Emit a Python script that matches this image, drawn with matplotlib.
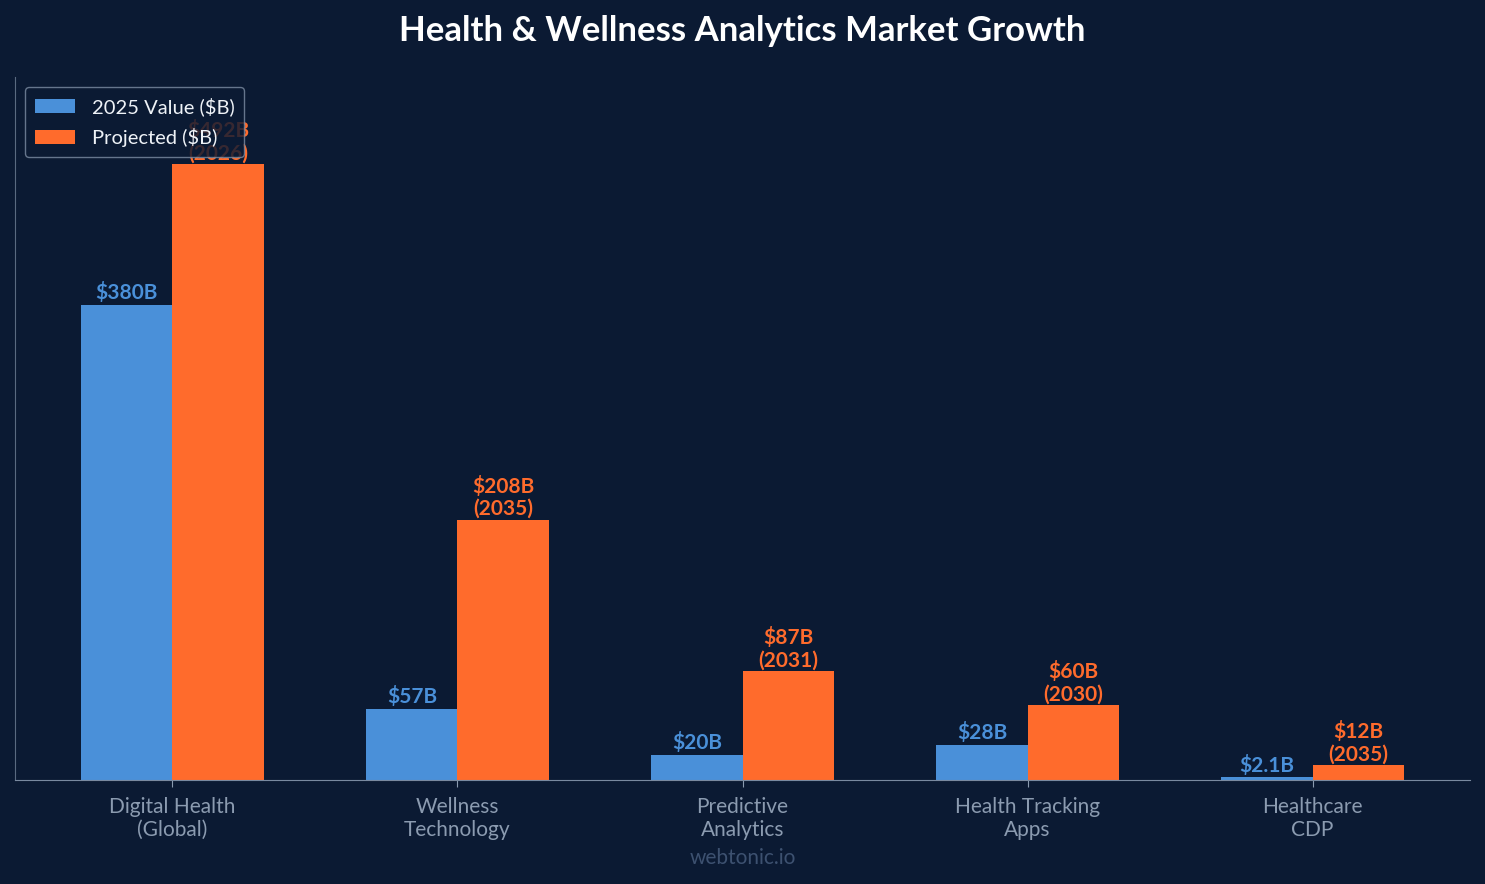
import matplotlib
matplotlib.use("Agg")
import matplotlib.pyplot as plt
import numpy as np

categories = ["Digital Health\n(Global)", "Wellness\nTechnology", "Predictive\nAnalytics",
              "Health Tracking\nApps", "Healthcare\nCDP"]
current_values = [380, 57, 20, 28, 2.1]
current_labels = ["$380B", "$57B", "$20B", "$28B", "$2.1B"]
projected_values = [492, 208, 87, 60, 12]
projected_labels = ["$492B\n(2026)", "$208B\n(2035)", "$87B\n(2031)", "$60B\n(2030)", "$12B\n(2035)"]

bg = "#0b1a33"
blue = "#4a90d9"
orange = "#ff6b2c"

plt.rcParams['font.family'] = ['Lato', 'DejaVu Sans']

fig = plt.figure(figsize=(14.85, 8.84), dpi=100, facecolor=bg)
ax = fig.add_axes([0.0101, 0.1176, 0.9798, 0.7955])
ax.set_facecolor(bg)

x = np.arange(len(categories))
w = 0.32
b1 = ax.bar(x - w / 2, current_values, w, color=blue, label="2025 Value ($B)")
b2 = ax.bar(x + w / 2, projected_values, w, color=orange, label="Projected ($B)")

for rect, lab in zip(b1, current_labels):
    ax.text(rect.get_x() + rect.get_width() / 2, rect.get_height() + 1.5, lab,
            ha="center", va="bottom", color=blue, fontsize=15, fontweight="bold")
for rect, lab in zip(b2, projected_labels):
    ax.text(rect.get_x() + rect.get_width() / 2, rect.get_height() + 0.5, lab,
            ha="center", va="bottom", color=orange, fontsize=15, fontweight="bold",
            linespacing=1.15)

ax.set_ylim(0, 562)
ax.set_xticks(x)
ax.set_xticklabels(categories, color="#8b9bb0", fontsize=15, linespacing=1.22)
ax.tick_params(axis="x", colors="#8b9bb0", length=5, pad=7)
ax.set_yticks([])
for s in ["top", "right"]:
    ax.spines[s].set_visible(False)
ax.spines["left"].set_color("#5a6a80")
ax.spines["bottom"].set_color("#7a8aa0")

leg = ax.legend(loc="upper left", fontsize=14.5, facecolor=bg, edgecolor="#7a8aa0",
                framealpha=0.82, borderpad=0.5, handlelength=2.0, labelspacing=0.6)
for t in leg.get_texts():
    t.set_color("#eef2f7")

fig.suptitle("Health & Wellness Analytics Market Growth", color="white",
             fontsize=25, fontweight="bold", y=0.983)
fig.text(0.5, 0.029, "webtonic.io", ha="center", va="center", color="#3d5170", fontsize=15)

fig.savefig("out.png", dpi=100, facecolor=bg)
